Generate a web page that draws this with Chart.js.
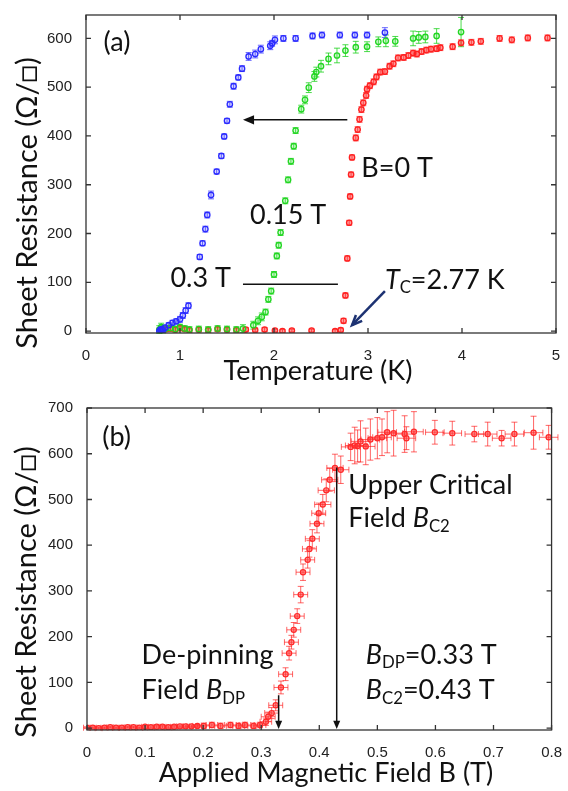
<!DOCTYPE html>
<html>
<head>
<meta charset="utf-8">
<script src="https://cdn.jsdelivr.net/npm/chart.js@4/dist/chart.umd.min.js"></script>
<style>
  body { margin: 0; background: #fff; }
  canvas { position: absolute; left: 0; }
  #chartA { top: 0; }
  #chartB { top: 390px; }
</style>
</head>
<body>
<canvas id="chartA" width="568" height="390"></canvas>
<canvas id="chartB" width="568" height="401"></canvas>
<script>
// tick labels
const tempTicks = [0, 1, 2, 3, 4, 5];
const resTicksA = [0, 100, 200, 300, 400, 500, 600];
const fieldTicks = [0, 0.1, 0.2, 0.3, 0.4, 0.5, 0.6, 0.7, 0.8];
const resTicksB = [0, 100, 200, 300, 400, 500, 600, 700];

// (a) B = 0 T
const tB0 = [0.80,0.85,0.90,0.95,1.00,1.05,1.10,1.20,1.30,1.40,1.50,1.60,1.70,1.80,1.90,2.01,2.09,2.19,2.40,2.65,
  2.71,2.74,2.76,2.78,2.80,2.81,2.82,2.83,2.87,2.89,2.91,2.93,2.95,2.98,2.99,3.02,3.06,3.09,3.13,3.18,
  3.23,3.27,3.32,3.38,3.43,3.48,3.52,3.57,3.62,3.67,3.73,3.77,3.90,3.99,4.10,4.20,4.40,4.53,4.70,4.91];
const rB0 = [2,4,5,3,6,4,2,3,2,4,3,2,3,2,3,1,0,1,1,0,
  2,21,73,149,222,276,321,356,396,413,434,454,468,483,496,503,511,521,531,532,
  543,548,560,561,565,570,568,573,576,578,579,581,583,591,592,594,600,597,601,601];
const eB0 = [4,5,4,4,5,4,4,4,4,4,4,4,4,4,4,3,3,3,3,3,
  4,5,5,5,5,5,5,5,6,6,6,6,6,6,6,6,6,6,6,6,
  6,6,6,6,6,6,6,6,6,6,6,6,6,6,6,6,6,6,6,6];

// (a) B = 0.15 T
const t015 = [0.78,0.80,0.82,0.85,0.90,0.95,1.00,1.05,1.10,1.20,1.30,1.40,1.50,1.60,1.67,
  1.78,1.83,1.87,1.91,1.94,1.97,2.00,2.03,2.05,2.07,2.12,2.15,2.18,2.21,2.23,
  2.29,2.33,2.37,2.43,2.45,2.50,2.58,2.67,2.76,2.87,2.99,3.11,3.19,3.29,3.48,3.54,3.61,3.73,3.99];
const r015 = [3,8,2,5,6,4,8,5,3,4,3,5,4,3,5,
  12,21,29,39,65,82,116,154,176,202,267,310,348,379,411,
  455,474,499,522,531,543,558,565,575,582,583,593,595,594,600,602,603,605,613];
const e015 = [8,8,6,6,6,6,6,6,6,6,6,6,6,6,8,
  8,8,8,6,6,6,6,6,6,6,6,6,6,6,6,
  8,8,10,10,10,12,12,15,12,12,10,10,12,10,15,12,12,15,30];

// (a) B = 0.3 T
const t03 = [0.78,0.79,0.80,0.81,0.82,0.84,0.88,0.92,0.96,1.00,1.03,1.06,1.09,1.21,1.24,
  1.27,1.29,1.33,1.39,1.44,1.47,1.50,1.53,1.57,1.62,1.66,1.73,1.80,1.86,1.96,
  1.98,2.01,2.10,2.23,2.41,2.51,2.70,2.86,2.99,3.18];
const r03 = [0,3,1,4,2,7,12,17,20,24,32,42,52,152,180,
  209,238,279,327,359,399,431,465,502,520,538,563,568,578,585,
  590,597,600,600,605,607,607,607,607,612];
const e03 = [4,4,4,4,4,5,5,5,5,6,6,6,6,5,5,
  6,6,8,5,5,5,5,6,6,5,6,8,8,8,8,
  6,8,6,6,6,6,6,6,6,10];

// (b) field sweep
const fieldB = [0.000,0.010,0.020,0.030,0.040,0.050,0.060,0.070,0.080,0.090,
  0.100,0.110,0.120,0.130,0.140,0.150,0.160,0.170,0.180,0.190,
  0.201,0.215,0.230,0.247,0.261,0.272,0.287,0.298,0.308,0.312,
  0.318,0.325,0.334,0.342,0.348,0.352,0.356,0.362,0.368,0.372,
  0.380,0.383,0.388,0.396,0.399,0.406,0.412,0.418,0.427,0.437,
  0.454,0.461,0.466,0.471,0.480,0.488,0.500,0.508,0.517,0.528,
  0.547,0.550,0.563,0.599,0.629,0.667,0.690,0.714,0.736,0.769,0.795];
const resB = [1,1,0,1,2,1,1,2,2,1,
  3,2,3,3,2,3,4,4,4,5,
  5,7,5,7,5,7,5,7,14,25,
  33,50,89,118,164,188,215,245,292,341,
  368,392,414,447,470,489,520,543,569,565,
  615,618,617,627,616,631,634,636,647,645,
  643,634,648,647,645,643,643,634,643,646,636];
const xerrB = [0.006,0.006,0.006,0.006,0.006,0.006,0.006,0.006,0.006,0.006,
  0.006,0.006,0.006,0.006,0.006,0.006,0.006,0.006,0.008,0.008,
  0.010,0.010,0.010,0.010,0.010,0.010,0.010,0.010,0.010,0.012,
  0.012,0.012,0.012,0.012,0.012,0.012,0.012,0.012,0.012,0.012,
  0.012,0.012,0.012,0.012,0.012,0.014,0.014,0.014,0.014,0.014,
  0.016,0.016,0.016,0.016,0.016,0.016,0.016,0.016,0.016,0.016,
  0.016,0.016,0.016,0.016,0.016,0.016,0.016,0.016,0.016,0.016,0.016];
const yerrB = [2,2,2,2,2,2,2,2,2,2,
  3,3,3,3,3,3,3,3,3,3,
  6,6,6,6,6,6,6,6,8,10,
  12,12,14,14,15,15,16,16,18,18,
  18,18,20,20,22,22,25,25,30,30,
  30,40,35,45,40,45,45,40,45,50,
  40,25,44,26,26,17,26,17,26,36,26];

const pts = (xs, ys) => xs.map((v, i) => ({ x: v, y: ys[i] }));

const TICK_FONT = { family: "'Liberation Sans', Arial, sans-serif", size: 15 };
const BIG = "Lato, 'Open Sans', sans-serif";

// error bars drawn through the chart scales
const errorBars = {
  id: 'errorBars',
  beforeDatasetsDraw(chart) {
    const { ctx, scales: { x, y } } = chart;
    chart.data.datasets.forEach(ds => {
      ctx.save();
      ctx.strokeStyle = ds.errColor;
      ctx.lineWidth = 1;
      ds.data.forEach((p, i) => {
        const px = x.getPixelForValue(p.x), py = y.getPixelForValue(p.y);
        ctx.beginPath();
        if (ds.errY) {
          const t = y.getPixelForValue(p.y + ds.errY[i]), b = y.getPixelForValue(p.y - ds.errY[i]);
          ctx.moveTo(px, t); ctx.lineTo(px, b);
          ctx.moveTo(px - 3, t); ctx.lineTo(px + 3, t);
          ctx.moveTo(px - 3, b); ctx.lineTo(px + 3, b);
        }
        if (ds.errX) {
          const l = x.getPixelForValue(p.x - ds.errX[i]), r = x.getPixelForValue(p.x + ds.errX[i]);
          ctx.moveTo(l, py); ctx.lineTo(r, py);
          ctx.moveTo(l, py - 3); ctx.lineTo(l, py + 3);
          ctx.moveTo(r, py - 3); ctx.lineTo(r, py + 3);
        }
        ctx.stroke();
      });
      ctx.restore();
    });
  }
};

// box around plot with inward ticks on all four sides
const frame = {
  id: 'frame',
  afterDraw(chart) {
    const { ctx, chartArea: a, scales: { x, y } } = chart;
    ctx.save();
    ctx.strokeStyle = '#333';
    ctx.lineWidth = 1.3;
    ctx.strokeRect(a.left, a.top, a.right - a.left, a.bottom - a.top);
    ctx.beginPath();
    x.ticks.forEach(t => {
      const px = x.getPixelForValue(t.value);
      ctx.moveTo(px, a.bottom); ctx.lineTo(px, a.bottom - 5);
      ctx.moveTo(px, a.top); ctx.lineTo(px, a.top + 5);
    });
    y.ticks.forEach(t => {
      const py = y.getPixelForValue(t.value);
      ctx.moveTo(a.left, py); ctx.lineTo(a.left + 5, py);
      ctx.moveTo(a.right, py); ctx.lineTo(a.right - 5, py);
    });
    ctx.stroke();
    ctx.restore();
  }
};

function richWidth(ctx, parts, size) {
  let w = 0;
  parts.forEach(p => {
    ctx.font = (p.it ? 'italic ' : '') + (p.sub ? size * 0.62 : size) + 'px ' + BIG;
    w += ctx.measureText(p.t).width;
  });
  return w;
}

function drawRich(ctx, parts, x, y, size, align) {
  let cx = align === 'center' ? x - richWidth(ctx, parts, size) / 2 : x;
  ctx.textBaseline = 'middle';
  ctx.textAlign = 'left';
  parts.forEach(p => {
    ctx.font = (p.it ? 'italic ' : '') + (p.sub ? size * 0.62 : size) + 'px ' + BIG;
    ctx.fillText(p.t, cx, y + (p.sub ? size * 0.3 : 0));
    cx += ctx.measureText(p.t).width;
  });
}

function arrow(ctx, x1, y1, x2, y2, head, color, width, open) {
  const ang = Math.atan2(y2 - y1, x2 - x1);
  ctx.save();
  ctx.strokeStyle = color; ctx.fillStyle = color; ctx.lineWidth = width;
  ctx.beginPath(); ctx.moveTo(x1, y1);
  ctx.lineTo(open ? x2 : x2 - Math.cos(ang) * head * 0.8, open ? y2 : y2 - Math.sin(ang) * head * 0.8);
  ctx.stroke();
  ctx.beginPath();
  ctx.moveTo(x2 - head * Math.cos(ang - 0.4), y2 - head * Math.sin(ang - 0.4));
  ctx.lineTo(x2, y2);
  ctx.lineTo(x2 - head * Math.cos(ang + 0.4), y2 - head * Math.sin(ang + 0.4));
  if (open) ctx.stroke(); else { ctx.closePath(); ctx.fill(); }
  ctx.restore();
}

// annotations: positions in data units, converted via the scales
const notes = {
  id: 'notes',
  afterDraw(chart, args, opts) {
    const { ctx, scales: { x, y } } = chart;
    const X = v => x.getPixelForValue(v), Y = v => y.getPixelForValue(v);
    ctx.save();
    ctx.fillStyle = '#111';
    (opts.texts || []).forEach(t => drawRich(ctx, t.parts, X(t.x), Y(t.y), t.size || 27, t.align));
    (opts.arrows || []).forEach(a => arrow(ctx, X(a.x1), Y(a.y1), X(a.x2), Y(a.y2), a.head, a.color, a.width, a.open));
    (opts.lines || []).forEach(l => {
      ctx.strokeStyle = '#111'; ctx.lineWidth = 1.5;
      ctx.beginPath(); ctx.moveTo(X(l.x1), Y(l.y1)); ctx.lineTo(X(l.x2), Y(l.y2)); ctx.stroke();
    });
    // axis titles
    const a = chart.chartArea;
    ctx.fillStyle = '#111';
    ctx.textAlign = 'center'; ctx.textBaseline = 'middle';
    ctx.font = '27px ' + BIG;
    ctx.fillText(opts.xTitle, a.left + opts.xTitleDx, a.bottom + opts.xTitleDy);
    ctx.font = '29px ' + BIG;
    ctx.translate(opts.yTitleX, a.top + opts.yTitleDy);
    ctx.rotate(-Math.PI / 2);
    ctx.fillText(opts.yTitle, 0, 0);
    ctx.restore();
  }
};

function makeScales(xmin, xmax, xt, ymin, ymax, yt, yWidth, xHeight) {
  return {
    x: {
      type: 'linear', min: xmin, max: xmax,
      afterBuildTicks: s => { s.ticks = xt.map(v => ({ value: v })); },
      afterFit: s => { s.height = xHeight; },
      grid: { display: false }, border: { display: false },
      ticks: { font: TICK_FONT, color: '#222', padding: 6, maxRotation: 0, autoSkip: false }
    },
    y: {
      type: 'linear', min: ymin, max: ymax,
      afterBuildTicks: s => { s.ticks = yt.map(v => ({ value: v })); },
      afterFit: s => { s.width = yWidth; },
      grid: { display: false }, border: { display: false },
      ticks: { font: TICK_FONT, color: '#222', padding: 6, autoSkip: false }
    }
  };
}

const sq = '\u25A1';

new Chart(document.getElementById('chartA'), {
  type: 'scatter',
  data: {
    datasets: [
      { data: pts(t03, r03), errY: e03, errColor: 'rgba(40,40,255,0.7)', borderColor: '#2a2aff', backgroundColor: 'rgba(60,60,255,0.2)', pointRadius: 2.7, borderWidth: 1.3 },
      { data: pts(t015, r015), errY: e015, errColor: 'rgba(30,210,30,0.8)', borderColor: '#22d622', backgroundColor: 'rgba(40,220,40,0.2)', pointRadius: 2.7, borderWidth: 1.3 },
      { data: pts(tB0, rB0), errY: eB0, errColor: 'rgba(255,30,30,0.7)', borderColor: '#ff2020', backgroundColor: 'rgba(255,40,40,0.45)', pointRadius: 2.7, borderWidth: 1.3 }
    ]
  },
  options: {
    responsive: false, animation: false,
    layout: { padding: { top: 8, right: 12, left: 0, bottom: 0 } },
    scales: makeScales(0, 5, tempTicks, -4, 648, resTicksA, 86, 57),
    plugins: {
      legend: { display: false }, tooltip: { enabled: false },
      notes: {
        xTitle: 'Temperature (K)', xTitleDx: 232, xTitleDy: 38,
        yTitle: 'Sheet Resistance (\u03A9/' + sq + ')', yTitleX: 28, yTitleDy: 188,
        texts: [
          { parts: [{ t: '(a)' }], x: 0.33, y: 593, align: 'center' },
          { parts: [{ t: 'B=0 T' }], x: 3.31, y: 333, align: 'center' },
          { parts: [{ t: '0.15 T' }], x: 2.15, y: 238, align: 'center' },
          { parts: [{ t: '0.3 T' }], x: 1.22, y: 108, align: 'center' },
          { parts: [{ t: 'T', it: true }, { t: 'C', sub: true }, { t: '=2.77 K' }], x: 3.18, y: 105 }
        ],
        arrows: [
          { x1: 2.78, y1: 433, x2: 1.67, y2: 433, head: 12, color: '#111', width: 1.5 },
          { x1: 3.18, y1: 82, x2: 2.83, y2: 12, head: 11, color: '#1d3272', width: 2.5, open: true }
        ],
        lines: [{ x1: 1.67, y1: 96, x2: 2.68, y2: 96 }]
      }
    }
  },
  plugins: [errorBars, frame, notes]
});

new Chart(document.getElementById('chartB'), {
  type: 'scatter',
  data: {
    datasets: [
      { data: pts(fieldB, resB), errX: xerrB, errY: yerrB, errColor: 'rgba(255,20,20,0.65)', borderColor: '#ff2a2a', backgroundColor: 'rgba(255,60,60,0.5)', pointRadius: 2.6, borderWidth: 1.2 }
    ]
  },
  options: {
    responsive: false, animation: false,
    layout: { padding: { top: 18, right: 12, left: 0, bottom: 0 } },
    scales: makeScales(0, 0.8, fieldTicks, -4, 700, resTicksB, 87, 61),
    plugins: {
      legend: { display: false }, tooltip: { enabled: false },
      notes: {
        xTitle: 'Applied Magnetic Field B (T)', xTitleDx: 239, xTitleDy: 43,
        yTitle: 'Sheet Resistance (\u03A9/' + sq + ')', yTitleX: 27, yTitleDy: 184,
        texts: [
          { parts: [{ t: '(b)' }], x: 0.051, y: 636, align: 'center' },
          { parts: [{ t: 'Upper Critical' }], x: 0.450, y: 531 },
          { parts: [{ t: 'Field ' }, { t: 'B', it: true }, { t: 'C2', sub: true }], x: 0.450, y: 459 },
          { parts: [{ t: 'De-pinning' }], x: 0.094, y: 160 },
          { parts: [{ t: 'Field ' }, { t: 'B', it: true }, { t: 'DP', sub: true }], x: 0.094, y: 83 },
          { parts: [{ t: 'B', it: true }, { t: 'DP', sub: true }, { t: '=0.33 T' }], x: 0.480, y: 160 },
          { parts: [{ t: 'B', it: true }, { t: 'C2', sub: true }, { t: '=0.43 T' }], x: 0.480, y: 83 }
        ],
        arrows: [
          { x1: 0.33, y1: 72, x2: 0.33, y2: -2, head: 9, color: '#111', width: 1.5 },
          { x1: 0.43, y1: 570, x2: 0.43, y2: -2, head: 9, color: '#111', width: 1.5 }
        ]
      }
    }
  },
  plugins: [errorBars, frame, notes]
});
</script>
</body>
</html>
